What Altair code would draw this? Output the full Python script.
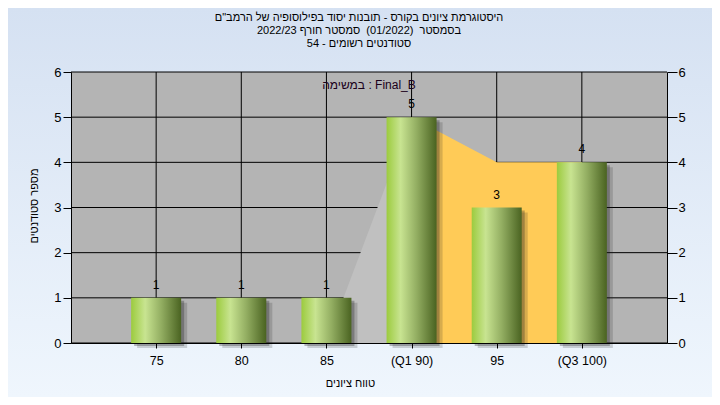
import json
import altair as alt
import pandas as pd

# ---- data ----
categories = [75, 80, 85, 90, 95, 100]
tick_labels = ["75", "80", "85", "(Q1 90)", "95", "(Q3 100)"]
counts = [1, 1, 1, 5, 3, 4]
y_ticks = [0, 1, 2, 3, 4, 5, 6]
low_area_x = [85, 90]
low_area_y = [0, 5]
iqr_area_x = [90, 95, 100]
iqr_area_y = [5, 4, 4]

title_lines = [
    'היסטוגרמת ציונים בקורס - תובנות יסוד בפילוסופיה של הרמב"ם',
    "בסמסטר\u00a0\u00a0(01/2022)\u00a0\u00a0סמסטר חורף 2022/23",
    "סטודנטים רשומים - 54",
]
subtitle = "במשימה : Final_B"
x_title = "טווח ציונים"
y_title = "מספר סטודנטים"

# ---- layout ----
W, H = 596, 271
PAD_L, PAD_T, PAD_R, PAD_B = 63, 64, 45, 54
FONT = "Liberation Sans"

xscale = alt.Scale(domain=[70, 105], nice=False, zero=False, padding=0)
yscale = alt.Scale(domain=[0, 6], nice=False, padding=0)

label_map = json.dumps({str(c): l for c, l in zip(categories, tick_labels)}, ensure_ascii=False)
label_expr = f"({label_map})[datum.value + '']"

one = alt.Data(values=[{}])
bars_df = pd.DataFrame({"grade": categories, "count": counts})

bg = alt.Chart(one).mark_rect(
    color=alt.LinearGradient(
        gradient="linear", x1=0, x2=0, y1=0, y2=1,
        stops=[alt.GradientStop(color="#d5e1f2", offset=0),
               alt.GradientStop(color="#eff6fd", offset=1)],
    )
).encode(x=alt.value(-PAD_L), x2=alt.value(W + PAD_R), y=alt.value(-PAD_T), y2=alt.value(H + PAD_B))

plot_bg = alt.Chart(one).mark_rect(color="#b4b4b4").encode(
    x=alt.value(0), x2=alt.value(W), y=alt.value(0), y2=alt.value(H)
)

hgrid = alt.Chart(pd.DataFrame({"v": y_ticks})).mark_rule(color="black", strokeWidth=1).encode(
    y=alt.Y("v:Q", scale=yscale, axis=None), x=alt.value(0), x2=alt.value(W)
)
vgrid = alt.Chart(pd.DataFrame({"g": categories})).mark_rule(color="black", strokeWidth=1).encode(
    x=alt.X("g:Q", scale=xscale, axis=None), y=alt.value(0), y2=alt.value(H)
)

low_area = alt.Chart(pd.DataFrame({"g": low_area_x, "n": low_area_y})).mark_area(
    color="#c0c0c0", opacity=1
).encode(x=alt.X("g:Q", scale=xscale, axis=None), y=alt.Y("n:Q", scale=yscale, axis=None))

iqr_area = alt.Chart(pd.DataFrame({"g": iqr_area_x, "n": iqr_area_y})).mark_area(
    color="#ffcb57", opacity=1
).encode(x=alt.X("g:Q", scale=xscale, axis=None), y=alt.Y("n:Q", scale=yscale, axis=None))

base = alt.Chart(bars_df)

shadow_a = base.mark_bar(size=50, color="#202020", opacity=0.18,
                         xOffset=6, x2Offset=6, yOffset=5, y2Offset=5).encode(
    x=alt.X("grade:Q", scale=xscale, axis=None), y=alt.Y("count:Q", scale=yscale, axis=None)
)
shadow_b = base.mark_bar(size=50, color="#202020", opacity=0.3,
                         xOffset=3, x2Offset=3, yOffset=3, y2Offset=3).encode(
    x=alt.X("grade:Q", scale=xscale, axis=None), y=alt.Y("count:Q", scale=yscale, axis=None)
)

bar_fill = alt.LinearGradient(
    gradient="linear", x1=0, x2=1, y1=0, y2=0,
    stops=[alt.GradientStop(color="#9ccb3e", offset=0),
           alt.GradientStop(color="#c8e491", offset=0.28),
           alt.GradientStop(color="#93ae62", offset=0.6),
           alt.GradientStop(color="#4a6321", offset=1)],
)

axis_common = dict(grid=False, labelFont=FONT, labelColor="black", domainColor="black",
                   tickColor="black", labelFlush=False, zindex=1)

bars = base.mark_bar(size=50, color=bar_fill).encode(
    x=alt.X("grade:Q", scale=xscale,
            axis=alt.Axis(values=categories, labelExpr=label_expr, title=x_title,
                          tickSize=5, labelPadding=6, labelFontSize=12.5,
                          titleFont=FONT, titleFontSize=11, titleFontWeight="normal",
                          titleColor="black", titleX=279, titleY=40, titleBaseline="middle",
                          titleAlign="center", labelOverlap=False, **axis_common)),
    y=alt.Y("count:Q", scale=yscale,
            axis=alt.Axis(orient="left", values=y_ticks, title=y_title,
                          tickSize=8, labelPadding=2, labelFontSize=13,
                          titleFont=FONT, titleFontSize=11, titleFontWeight="normal",
                          titleColor="black", titleX=-37, titleY=H / 2 - 2, titleAngle=270,
                          titleBaseline="middle", titleAlign="center", **axis_common)),
)

labels = base.mark_text(dy=-13, fontSize=12, font=FONT, color="black").encode(
    x=alt.X("grade:Q", scale=xscale, axis=None),
    y=alt.Y("count:Q", scale=yscale,
            axis=alt.Axis(orient="right", values=y_ticks, title=None,
                          tickSize=10, labelPadding=1, labelFontSize=13, **axis_common)),
    text="count:Q",
)

sub = alt.Chart(one).mark_text(font=FONT, fontSize=12, color="#1a001a", baseline="middle").encode(
    x=alt.value(W / 2), y=alt.value(13), text=alt.value(subtitle)
)

title_layers = []
for i, line in enumerate(title_lines):
    title_layers.append(
        alt.Chart(one).mark_text(font=FONT, fontSize=11, color="black", baseline="middle").encode(
            x=alt.value(288), y=alt.value(-54 + 13 * i), text=alt.value(line)
        )
    )

chart = alt.layer(
    bg, plot_bg, hgrid, vgrid, low_area, iqr_area, shadow_a, shadow_b, bars, labels, sub,
    *title_layers
).resolve_axis(x="independent", y="independent").properties(
    width=W, height=H,
    autosize=alt.AutoSizeParams(type="none"),
    padding={"left": PAD_L, "top": PAD_T, "right": PAD_R, "bottom": PAD_B},
).configure_view(strokeWidth=0)

chart.save("out.html", embed_options={"renderer": "svg", "actions": False})
